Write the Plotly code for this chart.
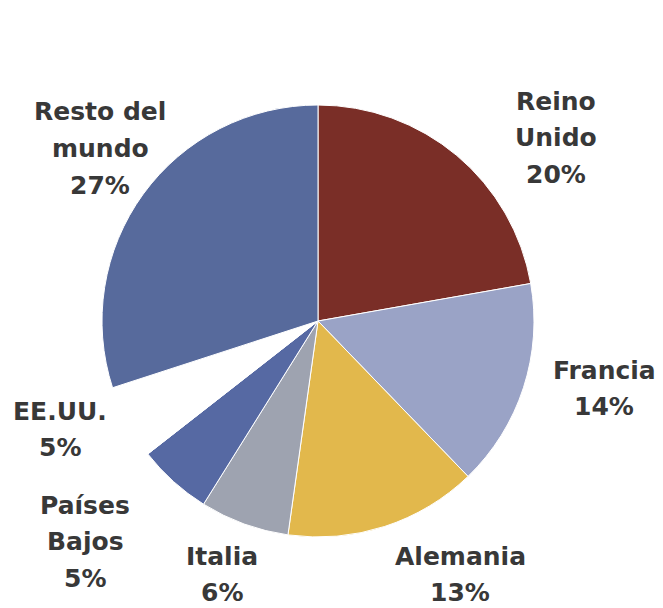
import plotly.graph_objects as go

labels = ["Reino Unido", "Francia", "Alemania", "Italia", "Países Bajos", "EE.UU.", "Resto del mundo"]
values = [20, 14, 13, 6, 5, 5, 27]
label_lines = [["Reino", "Unido"], ["Francia"], ["Alemania"], ["Italia"], ["Países", "Bajos"], ["EE.UU."], ["Resto del", "mundo"]]
colors = ["#7a2e27", "#9aa3c6", "#e2b84c", "#9ea3b0", "#5669a3", "#ffffff", "#576a9c"]

W, H = 663, 608
OFF = 8  # browser body margin
LINE = 36.5  # px between text lines

# label anchor positions (pixel centre of first line in reference)
label_px = [(556, 101), (604, 370), (460, 556), (222, 556), (85, 505), (60, 411), (100, 112)]

def px2paper(px, py):
    return (px - OFF) / W, 1 - (py - OFF) / H

pie_left, pie_right, pie_top, pie_bot = 102, 534, 105, 537
x0, y1 = px2paper(pie_left, pie_top)
x1, y0 = px2paper(pie_right, pie_bot)

fig = go.Figure(go.Pie(
    labels=labels,
    values=values,
    sort=False,
    direction="clockwise",
    rotation=0,
    textinfo="none",
    hoverinfo="label+value",
    marker=dict(colors=colors, line=dict(color="#ffffff", width=1)),
    domain=dict(x=[x0, x1], y=[y0, y1]),
    showlegend=False,
))

for lines, v, (px, py) in zip(label_lines, values, label_px):
    for i, t in enumerate(lines + [f"{v}%"]):
        ax, ay = px2paper(px, py + i * LINE)
        fig.add_annotation(
            x=ax, y=ay, xref="paper", yref="paper",
            text=t, showarrow=False,
            xanchor="center", yanchor="middle", align="center",
            font=dict(family="DejaVu Sans", size=25, color="#383838", weight="bold"),
        )

fig.update_layout(
    width=W, height=H,
    margin=dict(l=0, r=0, t=0, b=0),
    paper_bgcolor="#ffffff",
    plot_bgcolor="#ffffff",
)

fig.write_html("out.html")
